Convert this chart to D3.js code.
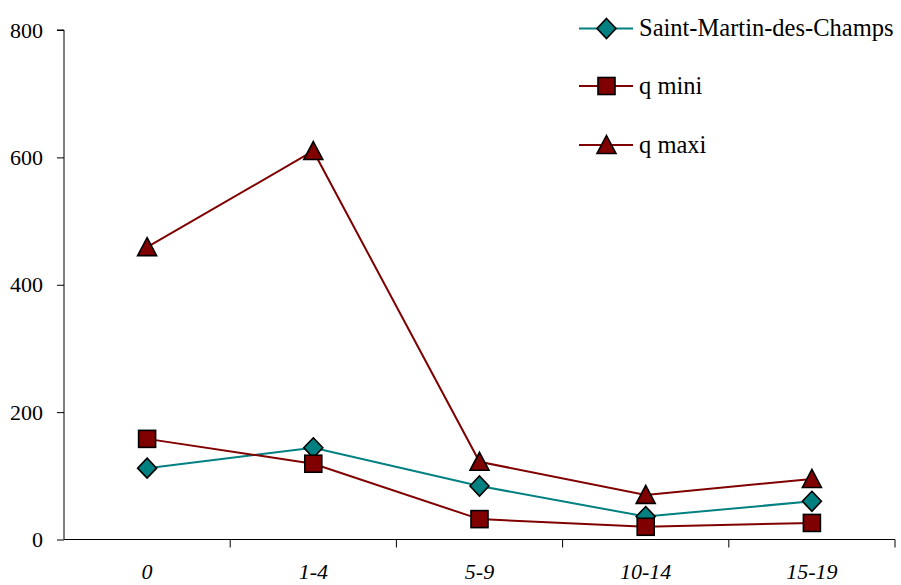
<!DOCTYPE html>
<html><head><meta charset="utf-8">
<script src="https://cdn.jsdelivr.net/npm/d3@7"></script>
<style>body{margin:0;background:#fff;font-family:'Liberation Serif',serif}svg{display:block}
text{font-family:'Liberation Serif',serif !important}</style>
</head><body>
<svg id="c" width="901" height="585" font-family="Liberation Serif, serif"></svg>
<script>
const categories = ["0","1-4","5-9","10-14","15-19"];
const saintMartin = [112, 144, 84, 36, 60];
const qMini = [158, 119, 32, 20, 26];
const qMaxi = [459, 610, 122, 70, 95];
const yTicks = [0, 200, 400, 600, 800];
const seriesNames = ["Saint-Martin-des-Champs", "q mini", "q maxi"];

const series = [
  {name: seriesNames[0], values: saintMartin, color: "#008080", shape: "diamond"},
  {name: seriesNames[1], values: qMini, color: "#800000", shape: "square"},
  {name: seriesNames[2], values: qMaxi, color: "#800000", shape: "triangle"}
];

const svg = d3.select("#c");
const x = d3.scaleBand().domain(categories).range([64, 895]);
const y = d3.scaleLinear().domain([0, 800]).range([539.5, 30]);

// y axis
const yAxis = svg.append("g").attr("transform", "translate(64,0)")
  .call(d3.axisLeft(y).tickValues(yTicks).tickSize(7).tickPadding(14).tickFormat(d3.format("d")));
yAxis.attr("font-family", null).attr("font-size", null);
yAxis.select(".domain").attr("stroke", "#000").attr("d", "M-7," + y(800) + "H0V" + y(0));
yAxis.selectAll("text").attr("font-size", 22).attr("fill", "#000");

// x axis
const xAxis = svg.append("g").attr("transform", "translate(0," + y(0) + ")")
  .call(d3.axisBottom(x).tickSize(0).tickPadding(24));
xAxis.attr("font-family", null).attr("font-size", null);
xAxis.select(".domain").attr("stroke", "#000").attr("d", "M64,0H895");
xAxis.selectAll("text").attr("font-size", 22).attr("font-style", "italic").attr("fill", "#000");
// category boundary ticks
const bounds = categories.slice(1).map(c => x(c)).concat([x.range()[1]]);
xAxis.selectAll("line.bt").data(bounds).enter().append("line").attr("class", "bt")
  .attr("x1", d => d).attr("x2", d => d).attr("y1", 0).attr("y2", 8).attr("stroke", "#000");

const cx = c => x(c) + x.bandwidth() / 2;
const line = d3.line().x((d, i) => cx(categories[i])).y(d => y(d));

function marker(g, shape, color) {
  if (shape === "diamond") {
    g.append("path").attr("d", "M0,-10L9.5,0L0,10L-9.5,0Z");
  } else if (shape === "square") {
    g.append("rect").attr("x", -8.5).attr("y", -8.5).attr("width", 17).attr("height", 17);
  } else {
    g.append("path").attr("d", "M0,-9.5L9.5,8.5L-9.5,8.5Z");
  }
  g.selectAll("path,rect").attr("fill", color).attr("stroke", "#000").attr("stroke-width", 1.6);
}

series.forEach(s => {
  svg.append("path").datum(s.values).attr("d", line)
    .attr("fill", "none").attr("stroke", s.color).attr("stroke-width", 2);
});
series.forEach(s => {
  s.values.forEach((v, i) => {
    const g = svg.append("g").attr("transform", "translate(" + cx(categories[i]) + "," + y(v) + ")");
    marker(g, s.shape, s.color);
  });
});

// legend
const legY = [28.5, 86, 145];
series.forEach((s, i) => {
  const g = svg.append("g").attr("transform", "translate(0," + legY[i] + ")");
  g.append("line").attr("x1", 579).attr("x2", 633).attr("y1", 0).attr("y2", 0)
    .attr("stroke", s.color).attr("stroke-width", 2);
  const m = g.append("g").attr("transform", "translate(606.5,0)");
  marker(m, s.shape, s.color);
  g.append("text").attr("x", 639).attr("y", 7.5)
    .attr("font-size", 24.5).attr("fill", "#000").text(s.name);
});
</script>
</body></html>
